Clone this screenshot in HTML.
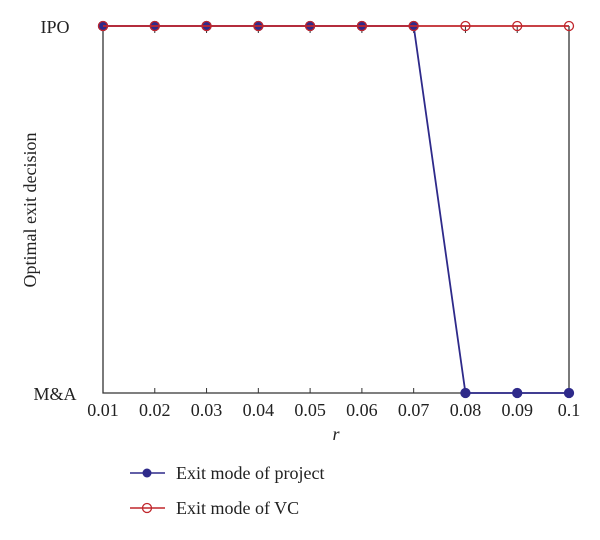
<!DOCTYPE html>
<html><head><meta charset="utf-8"><style>
body{margin:0;background:#fff;}
svg text{font-family:"Liberation Serif",serif;fill:#222;}
</style></head><body>
<svg id="chart" width="600" height="535">
<g id="axes"></g><g id="series"></g>
<text x="55" y="33" font-size="18" text-anchor="middle">IPO</text>
<text x="55" y="400" font-size="18" text-anchor="middle">M&amp;A</text>
<text transform="translate(36,210) rotate(-90)" font-size="18" text-anchor="middle">Optimal exit decision</text>
<text x="336" y="440" font-size="18" font-style="italic" text-anchor="middle">r</text>
<g>
<line x1="130" y1="473" x2="165" y2="473" stroke="#2e2a8a" stroke-width="1.5"/>
<circle cx="147" cy="473" r="4.5" fill="#2e2a8a"/>
<text x="176" y="479" font-size="18">Exit mode of project</text>
<line x1="130" y1="508" x2="165" y2="508" stroke="#c0262c" stroke-width="1.5"/>
<circle cx="147" cy="508" r="4.5" fill="none" stroke="#c0262c" stroke-width="1.3"/>
<text x="176" y="514" font-size="18">Exit mode of VC</text>
</g>
</svg>
<script>
const categories=[0.01,0.02,0.03,0.04,0.05,0.06,0.07,0.08,0.09,0.1];
const tickLabels=["0.01","0.02","0.03","0.04","0.05","0.06","0.07","0.08","0.09","0.1"];
const projectValues=[1,1,1,1,1,1,1,0,0,0];
const vcValues=[1,1,1,1,1,1,1,1,1,1];
const L=103,R=569,T=26,B=393,NS="http://www.w3.org/2000/svg";
const x=v=>L+(v-0.01)/(0.1-0.01)*(R-L);
const y=v=>B-v*(B-T);
function mk(t,a,p){const e=document.createElementNS(NS,t);for(const k in a)e.setAttribute(k,a[k]);p.appendChild(e);return e;}
const ax=document.getElementById('axes'),se=document.getElementById('series');
let f=mk('path',{d:`M${L},${T}V${B}H${R}V${T}`,fill:'none',stroke:'#333','stroke-width':1.3},ax);


categories.forEach((c,i)=>{
 const t=mk('path',{d:`M${x(c)},${B}v-5M${x(c)},${T}v7`,stroke:'#333','stroke-width':1},ax);
 
 
 const tx=mk('text',{x:x(c),y:B+23,'font-size':18,'text-anchor':'middle'},ax);
 tx.textContent=tickLabels[i];
 
 
});
function series(vals,col,filled,name){
 const p=mk('polyline',{points:categories.map((c,i)=>x(c)+','+y(vals[i])).join(' '),fill:'none',stroke:col,'stroke-width':1.8},se);
 
 
 categories.forEach((c,i)=>{
  const m=mk('circle',{cx:x(c),cy:y(vals[i]),r:4.5,fill:filled?col:'none',stroke:filled?col:'#c0262c','stroke-width':1.3},se);
  
  
 });
}
series(projectValues,'#2e2a8a',true,'project');
series(vcValues,'#c0262c',false,'vc');
</script>
</body></html>
